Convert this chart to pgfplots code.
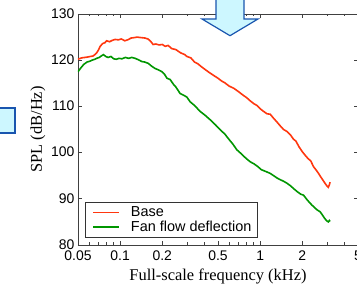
\documentclass[border=0pt]{standalone}
\usepackage{fontspec}
\setmainfont{Liberation Sans}
\newfontfamily\labelfont{Liberation Serif}
\usepackage{pgfplots}
\pgfplotsset{compat=1.18}
\definecolor{baseRed}{RGB}{255,55,15}
\definecolor{fanGreen}{RGB}{0,150,0}
\definecolor{arrowFill}{RGB}{205,247,255}
\definecolor{arrowLine}{RGB}{25,85,175}
\begin{document}
\begin{tikzpicture}
\begin{axis}[
  at={(78bp,39bp)}, anchor=south west,
  scale only axis, width=280bp, height=231bp,
  xmode=log, xmin=0.05, xmax=5, ymin=80, ymax=130,
  xtick={0.05,0.1,0.2,0.5,1,2,5},
  xticklabels={0.05,0.1,0.2,0.5,1,2,5},
  minor xtick={0.06,0.07,0.08,0.09,0.3,0.4,0.6,0.7,0.8,0.9,3,4},
  ytick={80,90,100,110,120,130},
  tick align=inside,
  major tick length=4bp, minor tick length=2.5bp,
  /pgf/number format/assume math mode=true,
  tick label style={font=\fontsize{14}{16}\selectfont, text=black},
  xticklabel style={yshift=-2bp},
  yticklabel style={yshift=0.5bp},
  axis line style={draw=black!75, line width=0.8bp},
  every tick/.style={black!75, line width=0.6bp},
  xlabel={\labelfont Full-scale frequency (kHz)},
  ylabel={\labelfont SPL (dB/Hz)},
  label style={font=\fontsize{16.5}{18}\selectfont},
  xlabel style={yshift=-1.5bp},
  ylabel style={yshift=-1bp},
  legend style={at={(0.025,0.0303)}, anchor=south west, draw=black!80, fill=white,
    font=\fontsize{14.5}{17}\selectfont, inner xsep=4bp, inner ysep=2.5bp,
    row sep=-1bp, line width=0.8bp},
  legend cell align=left,
  legend image code/.code={\path (-3bp,0bp) (35bp,0bp); \draw[#1, line width=1.6bp] (0bp,0bp) -- (26bp,0bp);},
]
\addplot[baseRed, line width=1.6bp] coordinates {
(0.050,120.2) (0.053,120.5) (0.056,120.6) (0.059,120.7) (0.061,120.8) (0.064,120.9)
(0.066,121.2) (0.068,121.6) (0.070,122.2) (0.072,123.0) (0.075,123.6) (0.078,123.8)
(0.080,124.2) (0.084,124.0) (0.088,124.3) (0.092,124.5) (0.097,124.4) (0.102,124.6)
(0.108,124.2) (0.113,124.4) (0.120,124.8) (0.127,124.9) (0.132,125.0) (0.140,124.9)
(0.150,124.8) (0.158,124.6) (0.165,124.1) (0.172,123.4) (0.180,123.5) (0.190,123.3)
(0.200,123.4) (0.210,123.0) (0.220,123.2) (0.234,122.5) (0.250,122.3) (0.270,121.6)
(0.290,121.2) (0.300,120.8) (0.320,120.5) (0.340,119.6) (0.360,119.2) (0.380,118.6)
(0.400,118.1) (0.430,117.4) (0.460,116.8) (0.500,116.1) (0.530,115.5) (0.560,115.1)
(0.600,114.4) (0.650,113.9) (0.700,113.2) (0.750,112.5) (0.800,111.9) (0.850,111.2)
(0.900,110.6) (0.950,110.2) (1.00,109.5) (1.06,108.9) (1.12,108.4) (1.18,108.3)
(1.25,107.4) (1.32,106.6) (1.40,105.7) (1.47,105.0) (1.55,104.6) (1.65,103.8)
(1.73,102.9) (1.80,102.5) (1.90,101.2) (2.00,100.2) (2.10,99.4) (2.20,98.7)
(2.30,98.2) (2.40,97.0) (2.50,96.3) (2.60,95.6) (2.70,94.8) (2.80,94.1)
(2.90,93.4) (3.00,92.8) (3.07,92.5) (3.12,93.0) (3.16,93.6)
};
\addlegendentry{Base}
\addplot[fanGreen, line width=1.6bp] coordinates {
(0.050,117.5) (0.052,118.2) (0.055,119.1) (0.058,119.6) (0.061,119.8) (0.063,120.0)
(0.066,120.2) (0.068,120.4) (0.071,120.6) (0.074,121.0) (0.076,121.2) (0.079,120.8)
(0.082,120.6) (0.086,120.8) (0.090,120.3) (0.094,120.2) (0.098,120.4) (0.103,120.3)
(0.109,120.6) (0.115,120.4) (0.121,120.6) (0.128,120.4) (0.135,120.1) (0.143,119.7)
(0.150,119.6) (0.159,119.3) (0.168,118.7) (0.178,118.2) (0.188,117.9) (0.199,117.5)
(0.208,116.9) (0.216,116.1) (0.228,115.8) (0.240,114.8) (0.250,114.2) (0.268,112.8)
(0.285,112.4) (0.300,112.0) (0.316,111.0) (0.340,110.2) (0.373,108.9) (0.400,108.2)
(0.440,107.1) (0.480,106.0) (0.520,104.9) (0.560,104.0) (0.594,103.0) (0.640,101.8)
(0.682,100.6) (0.730,99.8) (0.790,98.8) (0.850,98.0) (0.900,97.6) (0.960,97.0)
(1.02,96.3) (1.10,95.9) (1.18,95.5) (1.25,95.0) (1.32,94.5) (1.40,94.1)
(1.47,93.8) (1.55,93.4) (1.65,92.8) (1.75,92.1) (1.85,91.5) (1.95,91.0)
(2.04,90.8) (2.15,89.9) (2.25,89.2) (2.35,88.6) (2.45,88.1) (2.55,87.6)
(2.68,87.2) (2.80,86.4) (2.90,85.7) (3.00,85.2) (3.07,85.0) (3.12,85.3) (3.16,85.1)
};
\addlegendentry{Fan flow deflection}
\end{axis}
% decorative arrow shapes
\filldraw[fill=arrowFill, draw=arrowLine, line width=1.2bp, line join=miter]
  (216bp,292bp) -- (216bp,265bp) -- (202bp,265bp) -- (230bp,248.3bp)
  -- (258bp,265bp) -- (244bp,265bp) -- (244bp,292bp) -- cycle;
\filldraw[fill=arrowFill, draw=arrowLine, line width=1.2bp]
  (-10bp,151bp) rectangle (15bp,176bp);
\pgfresetboundingbox
\useasboundingbox (0,0) rectangle (357bp,284bp);
\end{tikzpicture}
\end{document}
